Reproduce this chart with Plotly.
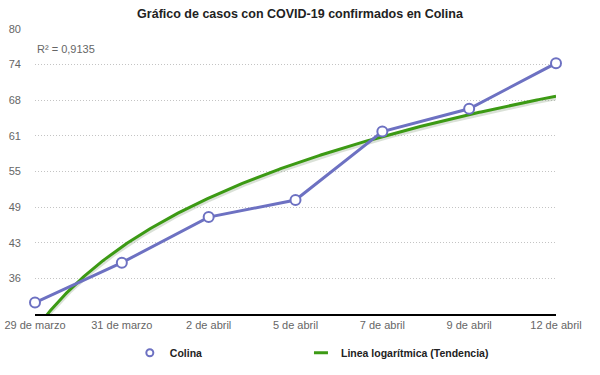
import numpy as np
import plotly.graph_objects as go

categories = ["29 de marzo", "31 de marzo", "2 de abril", "5 de abril", "7 de abril", "9 de abril", "12 de abril"]
colina = [32, 39, 47, 50, 62, 66, 74]
ytick_vals = [30, 36.25, 42.5, 48.75, 55, 61.25, 67.5, 73.75, 80]
ytick_text = ["", "36", "43", "49", "55", "61", "68", "74", "80"]
r2_label = "R² = 0,9135"

x_idx = np.arange(1, len(colina) + 1)
# logarithmic trend line fitted to the data (y = a + b ln x)
b, a = np.polyfit(np.log(x_idx), np.array(colina, dtype=float), 1)
xs = np.linspace(1, len(colina), 300)
trend = a + b * np.log(xs)

BLUE = "#6d71c2"
GREEN = "#3c9a14"
FONT = "Liberation Sans"

fig = go.Figure()
# soft shadow of trend line
fig.add_trace(go.Scatter(x=xs, y=trend - 0.35, mode="lines",
                         line=dict(color="rgba(150,170,140,0.35)", width=4),
                         showlegend=False, hoverinfo="skip"))
fig.add_trace(go.Scatter(x=xs, y=trend, mode="lines", name="Linea logarítmica (Tendencia)",
                         line=dict(color=GREEN, width=3), showlegend=False))
fig.add_trace(go.Scatter(x=x_idx, y=colina, mode="lines+markers", name="Colina",
                         line=dict(color=BLUE, width=3),
                         marker=dict(symbol="circle", size=10, color="white",
                                     line=dict(color=BLUE, width=2)),
                         cliponaxis=False, showlegend=False))
# compact legend entries (symbol only, as in the original)
fig.add_trace(go.Scatter(x=[None], y=[None], mode="markers", name="Colina",
                         marker=dict(symbol="circle", size=7, color="white",
                                     line=dict(color=BLUE, width=2)),
                         legend="legend"))
fig.add_trace(go.Scatter(x=[None], y=[None], mode="markers", name="Linea logarítmica (Tendencia)",
                         marker=dict(symbol="line-ew", size=10,
                                     line=dict(color=GREEN, width=3)),
                         legend="legend2"))

legend_font = dict(family=FONT, size=10.5, color="#222222", weight="bold")
fig.update_layout(
    width=600, height=375,
    paper_bgcolor="white", plot_bgcolor="white",
    margin=dict(l=35, r=44, t=29, b=61, autoexpand=False),
    font=dict(family=FONT, size=11, color="#666666"),
    title=dict(text="<b>Gráfico de casos con COVID-19 confirmados en Colina</b>",
               x=0.5, xanchor="center", y=0.963, yanchor="middle",
               font=dict(family=FONT, size=12.5, color="#222222")),
    showlegend=True,
    legend=dict(orientation="h", x=0.182, xanchor="left", y=-0.085, yanchor="top",
                itemwidth=30, font=legend_font),
    legend2=dict(orientation="h", x=0.5105, xanchor="left", y=-0.085, yanchor="top",
                 itemwidth=30, font=legend_font),
    xaxis=dict(range=[1, len(colina)], tickvals=list(x_idx), ticktext=categories,
               showgrid=False, zeroline=False, showline=True, linecolor="black",
               linewidth=2, ticks="", automargin=False,
               tickfont=dict(size=11, color="#666666")),
    yaxis=dict(range=[30, 80], tickvals=ytick_vals, ticktext=ytick_text,
               showgrid=True, gridcolor="#c4c4c4", griddash="1px,2px", gridwidth=1,
               zeroline=False, showline=False, ticks="", ticklabelstandoff=13,
               automargin=False, tickfont=dict(size=11, color="#666666")),
    annotations=[dict(text=r2_label, xref="paper", yref="paper", x=0, y=0.93,
                      xanchor="left", yanchor="middle", showarrow=False,
                      font=dict(family=FONT, size=11, color="#666666"))],
)

fig.write_html("out.html", config={"displayModeBar": False},
               post_script="document.body.style.margin='0';")
